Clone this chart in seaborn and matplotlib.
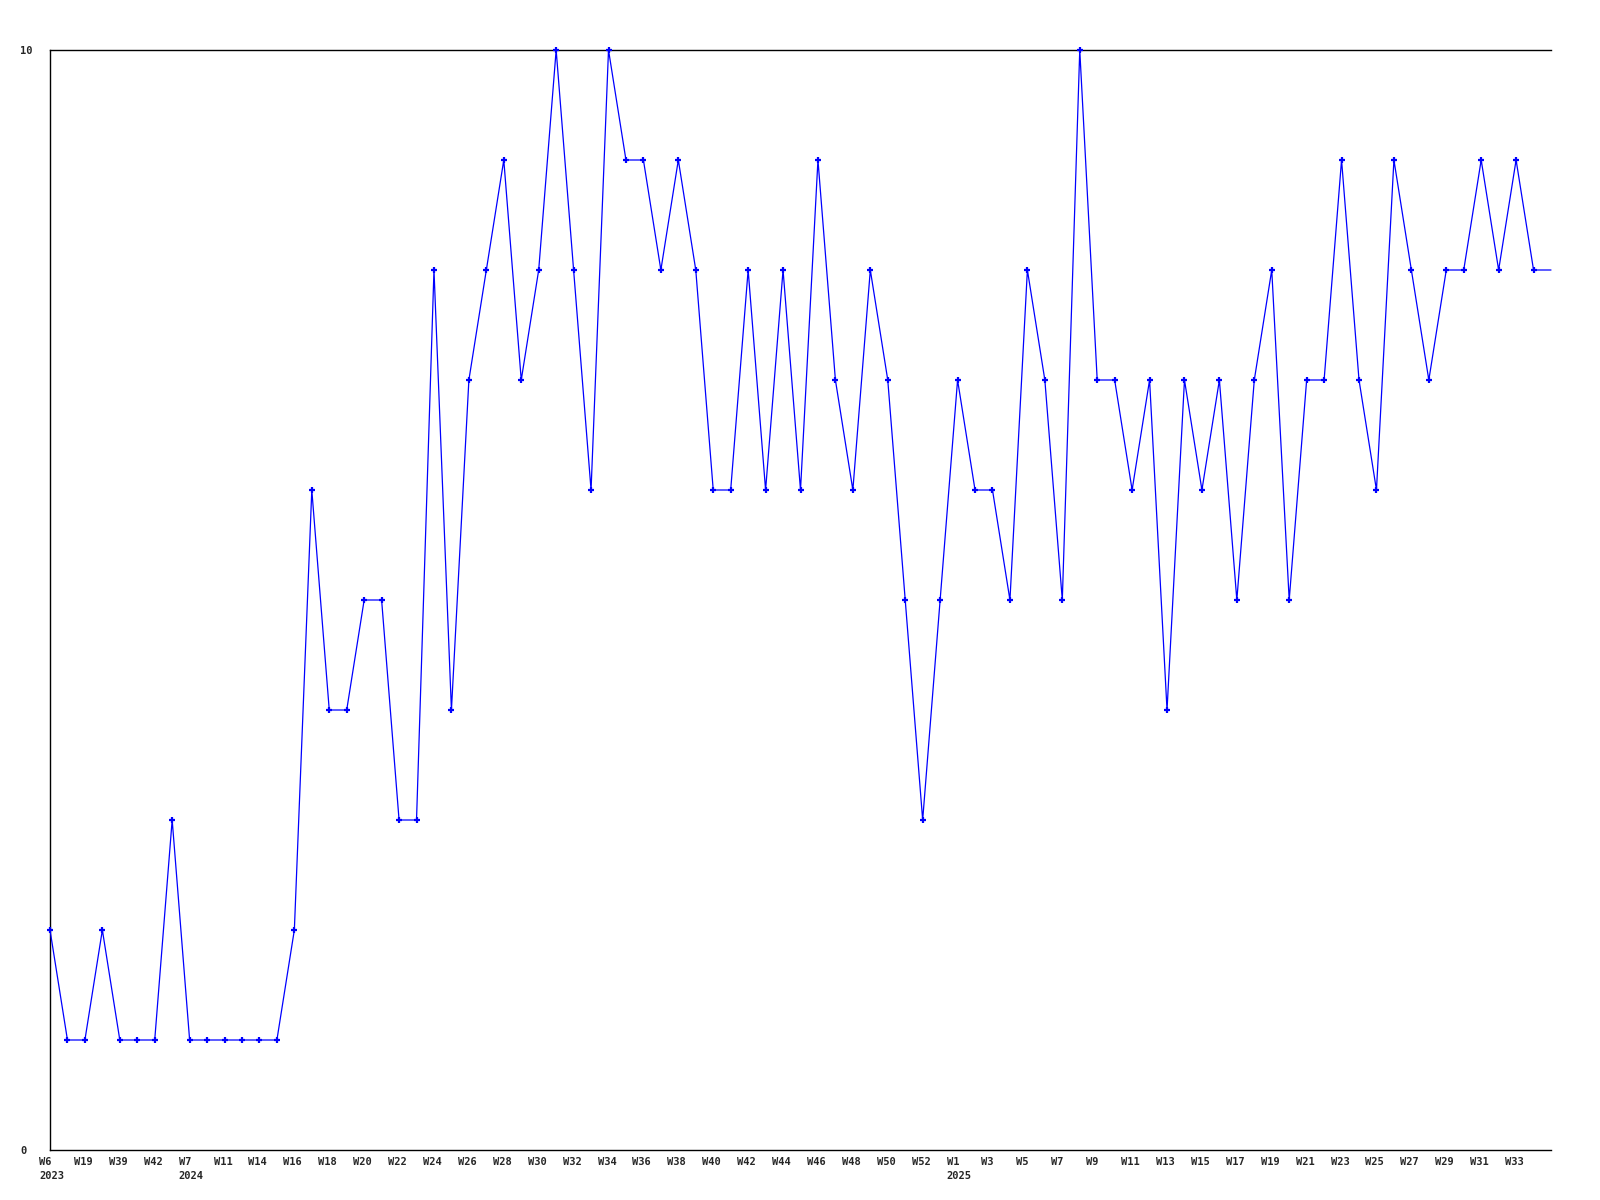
import numpy as np
import pandas as pd
import matplotlib
matplotlib.use("Agg")
import matplotlib.pyplot as plt
import matplotlib.transforms as mtransforms
import seaborn as sns

# weekly counts, one value per point (the last one only carries the line to the edge)
values = [2, 1, 1, 2, 1, 1, 1, 3, 1, 1, 1, 1, 1, 1, 2, 6, 4, 4, 5, 5,
          3, 3, 8, 4, 7, 8, 9, 7, 8, 10, 8, 6, 10, 9, 9, 8, 9, 8, 6, 6,
          8, 6, 8, 6, 9, 7, 6, 8, 7, 5, 3, 5, 7, 6, 6, 5, 8, 7, 5, 10,
          7, 7, 6, 7, 4, 7, 6, 7, 5, 7, 8, 5, 7, 7, 9, 7, 6, 9, 8, 7,
          8, 8, 9, 8, 9, 8, 8]

# labels shown on every second point
tick_labels = ["W6\n2023", "W19", "W39", "W42", "W7\n2024", "W11", "W14",
               "W16", "W18", "W20", "W22", "W24", "W26", "W28", "W30", "W32",
               "W34", "W36", "W38", "W40", "W42", "W44", "W46", "W48", "W50",
               "W52", "W1\n2025", "W3", "W5", "W7", "W9", "W11", "W13", "W15",
               "W17", "W19", "W21", "W23", "W25", "W27", "W29", "W31", "W33"]

y_ticks = [0, 10]


def main():
    df = pd.DataFrame({"idx": np.arange(len(values)), "count": values})

    sns.set_style("white")
    plt.rcParams["font.family"] = ["DejaVu Sans Mono", "DejaVu Sans"]

    fig = plt.figure(figsize=(16, 12), dpi=100)
    ax = fig.add_axes([50 / 1600, 50 / 1200, 1501 / 1600, 1100 / 1200])

    sns.lineplot(data=df, x="idx", y="count", ax=ax, color="#0000ff",
                 linewidth=0.9, marker="+", markersize=5,
                 markeredgewidth=1.6, markeredgecolor="#0000ff",
                 markevery=list(range(len(values) - 1)), clip_on=False,
                 zorder=3)

    ax.set_xlim(0, len(values) - 1)
    ax.set_ylim(0, 10)
    ax.set_xlabel("")
    ax.set_ylabel("")

    ax.tick_params(axis="x", length=0, pad=5)
    ax.tick_params(axis="y", length=0, pad=21.5)

    # x ticks every second point, labels left-aligned a bit before the point
    ax.set_xticks(np.arange(0, 2 * len(tick_labels), 2))
    ax.set_xticklabels(tick_labels, fontsize=7.5, fontweight="bold",
                       ha="left", linespacing=1.5)
    offset = mtransforms.ScaledTranslation(-11 / 100, 0, fig.dpi_scale_trans)
    for lbl in ax.get_xticklabels():
        lbl.set_transform(lbl.get_transform() + offset)

    ax.set_yticks(y_ticks)
    ax.set_yticklabels([str(v) for v in y_ticks], fontsize=7.5,
                       fontweight="bold", ha="left")

    for side in ["left", "bottom", "top"]:
        ax.spines[side].set_color("black")
        ax.spines[side].set_linewidth(1)
        ax.spines[side].set_zorder(2)
    ax.spines["right"].set_visible(False)

    fig.savefig("out.png", dpi=100)
    plt.close(fig)


if __name__ == "__main__":
    main()
